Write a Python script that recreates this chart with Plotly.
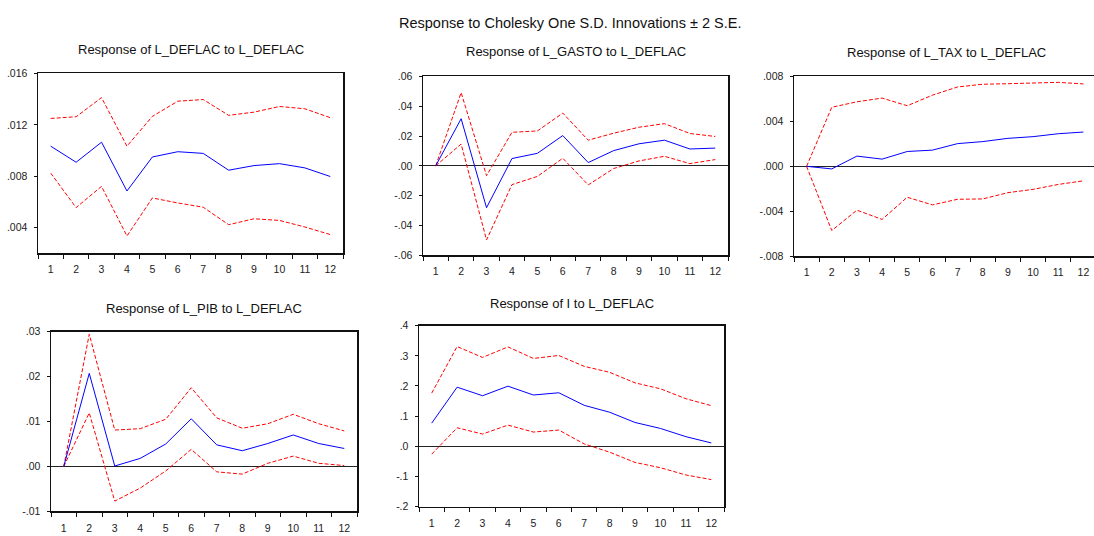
import plotly.graph_objects as go

periods = [str(i) for i in range(1, 13)]

# Response of L_DEFLAC to L_DEFLAC
deflac_resp = [0.01034, 0.00909, 0.01065, 0.00685, 0.0095, 0.00991, 0.00978, 0.00847, 0.00883, 0.00898, 0.00865, 0.00798]
deflac_up = [0.0125, 0.01263, 0.01412, 0.01034, 0.01266, 0.01384, 0.01397, 0.01274, 0.01299, 0.01343, 0.01325, 0.01256]
deflac_lo = [0.00824, 0.00556, 0.00721, 0.00335, 0.00631, 0.00592, 0.00559, 0.00423, 0.00469, 0.00456, 0.00405, 0.00346]

# Response of L_GASTO to L_DEFLAC
gasto_resp = [0.0, 0.0316, -0.0281, 0.0049, 0.0084, 0.0203, 0.0022, 0.0102, 0.0148, 0.0172, 0.0113, 0.0119]
gasto_up = [0.0, 0.0491, -0.0066, 0.0225, 0.0234, 0.0354, 0.0172, 0.0219, 0.0259, 0.0283, 0.0217, 0.0197]
gasto_lo = [0.0, 0.0146, -0.0497, -0.0126, -0.0071, 0.0051, -0.0128, -0.0018, 0.0033, 0.0064, 0.0015, 0.0042]

# Response of L_TAX to L_DEFLAC
tax_resp = [0.0, -0.00023, 0.00091, 0.00064, 0.00132, 0.00144, 0.00202, 0.0022, 0.00249, 0.00264, 0.0029, 0.00305]
tax_up = [0.0, 0.00525, 0.00574, 0.00607, 0.00539, 0.00633, 0.00706, 0.0073, 0.00735, 0.00741, 0.00747, 0.00733]
tax_lo = [0.0, -0.00571, -0.0039, -0.00472, -0.00275, -0.00343, -0.00293, -0.0029, -0.00234, -0.00205, -0.00161, -0.00129]

# Response of L_PIB to L_DEFLAC
pib_resp = [0.0, 0.0207, 0.0001, 0.0018, 0.005, 0.0106, 0.0048, 0.0035, 0.0051, 0.007, 0.0051, 0.004]
pib_up = [0.0, 0.0294, 0.0081, 0.0084, 0.0105, 0.0175, 0.0108, 0.0085, 0.0095, 0.0116, 0.0095, 0.0079]
pib_lo = [0.0, 0.0119, -0.0077, -0.0048, -0.001, 0.0038, -0.0012, -0.0017, 0.0007, 0.0023, 0.0007, 0.0002]

# Response of I to L_DEFLAC
i_resp = [0.0767, 0.196, 0.1676, 0.1993, 0.17, 0.1774, 0.1358, 0.1128, 0.0789, 0.0591, 0.0318, 0.011]
i_up = [0.1763, 0.3308, 0.2946, 0.3297, 0.2913, 0.3012, 0.265, 0.2453, 0.2103, 0.1906, 0.1577, 0.1347]
i_lo = [-0.0263, 0.0613, 0.0405, 0.0701, 0.0471, 0.0537, 0.0077, -0.0197, -0.0537, -0.0712, -0.0953, -0.1106]

# Tick labels
ticks_deflac = [0.004, 0.008, 0.012, 0.016]
labels_deflac = [".004", ".008", ".012", ".016"]
ticks_gasto = [-0.06, -0.04, -0.02, 0.0, 0.02, 0.04, 0.06]
labels_gasto = ["-.06", "-.04", "-.02", ".00", ".02", ".04", ".06"]
ticks_tax = [-0.008, -0.004, 0.0, 0.004, 0.008]
labels_tax = ["-.008", "-.004", ".000", ".004", ".008"]
ticks_pib = [-0.01, 0.0, 0.01, 0.02, 0.03]
labels_pib = ["-.01", ".00", ".01", ".02", ".03"]
ticks_i = [-0.2, -0.1, 0.0, 0.1, 0.2, 0.3, 0.4]
labels_i = ["-.2", "-.1", ".0", ".1", ".2", ".3", ".4"]

titles = ["Response of L_DEFLAC to L_DEFLAC", "Response of L_GASTO to L_DEFLAC",
          "Response of L_TAX to L_DEFLAC", "Response of L_PIB to L_DEFLAC",
          "Response of I to L_DEFLAC"]
main_title = "Response to Cholesky One S.D. Innovations \u00b1 2 S.E."

W, H = 1094, 536
FONT = "Liberation Sans, Arial, sans-serif"


def fx(px):
    return px / W


def fy(py):
    return 1 - py / H


panels = [
    dict(data=(deflac_resp, deflac_up, deflac_lo), yr=[0.002, 0.016], tv=ticks_deflac, tt=labels_deflac,
         px=(38, 343), py=(69, 253), xr=[-0.5, 11.5], title_xy=(191, 45)),
    dict(data=(gasto_resp, gasto_up, gasto_lo), yr=[-0.06, 0.06], tv=ticks_gasto, tt=labels_gasto,
         px=(423, 728), py=(72, 255), xr=[-0.5, 11.5], title_xy=(576, 47)),
    dict(data=(tax_resp, tax_up, tax_lo), yr=[-0.008, 0.008], tv=ticks_tax, tt=labels_tax,
         px=(794, 1094), py=(72, 256), xr=[-0.5, 11.42], title_xy=(946, 48)),
    dict(data=(pib_resp, pib_up, pib_lo), yr=[-0.01, 0.03], tv=ticks_pib, tt=labels_pib,
         px=(51, 357), py=(333, 517), xr=[-0.5, 11.5], title_xy=(204, 309)),
    dict(data=(i_resp, i_up, i_lo), yr=[-0.2, 0.4], tv=ticks_i, tt=labels_i,
         px=(419, 724), py=(327, 512), xr=[-0.5, 11.5], title_xy=(572, 304)),
]

fig = go.Figure()
layout = dict(
    width=W, height=H,
    margin=dict(l=0, r=0, t=0, b=0),
    paper_bgcolor="white", plot_bgcolor="white",
    showlegend=False,
    font=dict(family=FONT, size=10, color="#222222"),
)
annotations = [dict(text=main_title, x=fx(570), y=fy(17), xref="paper", yref="paper",
                    showarrow=False, font=dict(size=14.5, family=FONT, color="#111111"),
                    xanchor="center", yanchor="middle")]

for k, p in enumerate(panels):
    n = k + 1
    xa = "x" if n == 1 else f"x{n}"
    ya = "y" if n == 1 else f"y{n}"
    resp, up, lo = p["data"]
    fig.add_trace(go.Scatter(x=periods, y=up, mode="lines", xaxis=xa, yaxis=ya,
                             line=dict(color="#FF0000", width=1, dash="4px,2px")))
    fig.add_trace(go.Scatter(x=periods, y=lo, mode="lines", xaxis=xa, yaxis=ya,
                             line=dict(color="#FF0000", width=1, dash="4px,2px")))
    fig.add_trace(go.Scatter(x=periods, y=resp, mode="lines", xaxis=xa, yaxis=ya,
                             line=dict(color="#0000FF", width=1)))
    x0, x1 = p["px"]
    y0, y1 = p["py"]
    xkey = "xaxis" if n == 1 else f"xaxis{n}"
    ykey = "yaxis" if n == 1 else f"yaxis{n}"
    layout[xkey] = dict(
        domain=[fx(x0), min(fx(x1), 1.0)], anchor=ya, type="category", range=p["xr"],
        showgrid=False, zeroline=False, showline=True, linecolor="#111111", linewidth=1.5,
        mirror=True, ticks="outside", tickson="boundaries", ticklen=4, tickcolor="#111111",
        ticklabelstandoff=6,
        tickfont=dict(size=10.5, family=FONT, color="#222222"),
    )
    layout[ykey] = dict(
        domain=[fy(y1), fy(y0)], anchor=xa, range=p["yr"],
        tickvals=p["tv"], ticktext=p["tt"],
        showgrid=False, zeroline=True, zerolinecolor="#222222", zerolinewidth=1,
        showline=True, linecolor="#111111", linewidth=1.5, mirror=(n != 3),
        ticks="outside", ticklen=3, tickcolor="#111111",
        ticklabelstandoff=4,
        tickfont=dict(size=10.5, family=FONT, color="#222222"),
    )
    tx, ty = p["title_xy"]
    annotations.append(dict(text=titles[k], x=fx(tx), y=fy(ty), xref="paper", yref="paper",
                            showarrow=False, font=dict(size=13, family=FONT, color="#111111"),
                            xanchor="center", yanchor="middle"))

layout["annotations"] = annotations
fig.update_layout(**layout)
fig.write_html(
    "out.html",
    config={"displayModeBar": False, "staticPlot": True},
    post_script="document.body.style.margin='0';document.body.style.overflow='hidden';",
)
